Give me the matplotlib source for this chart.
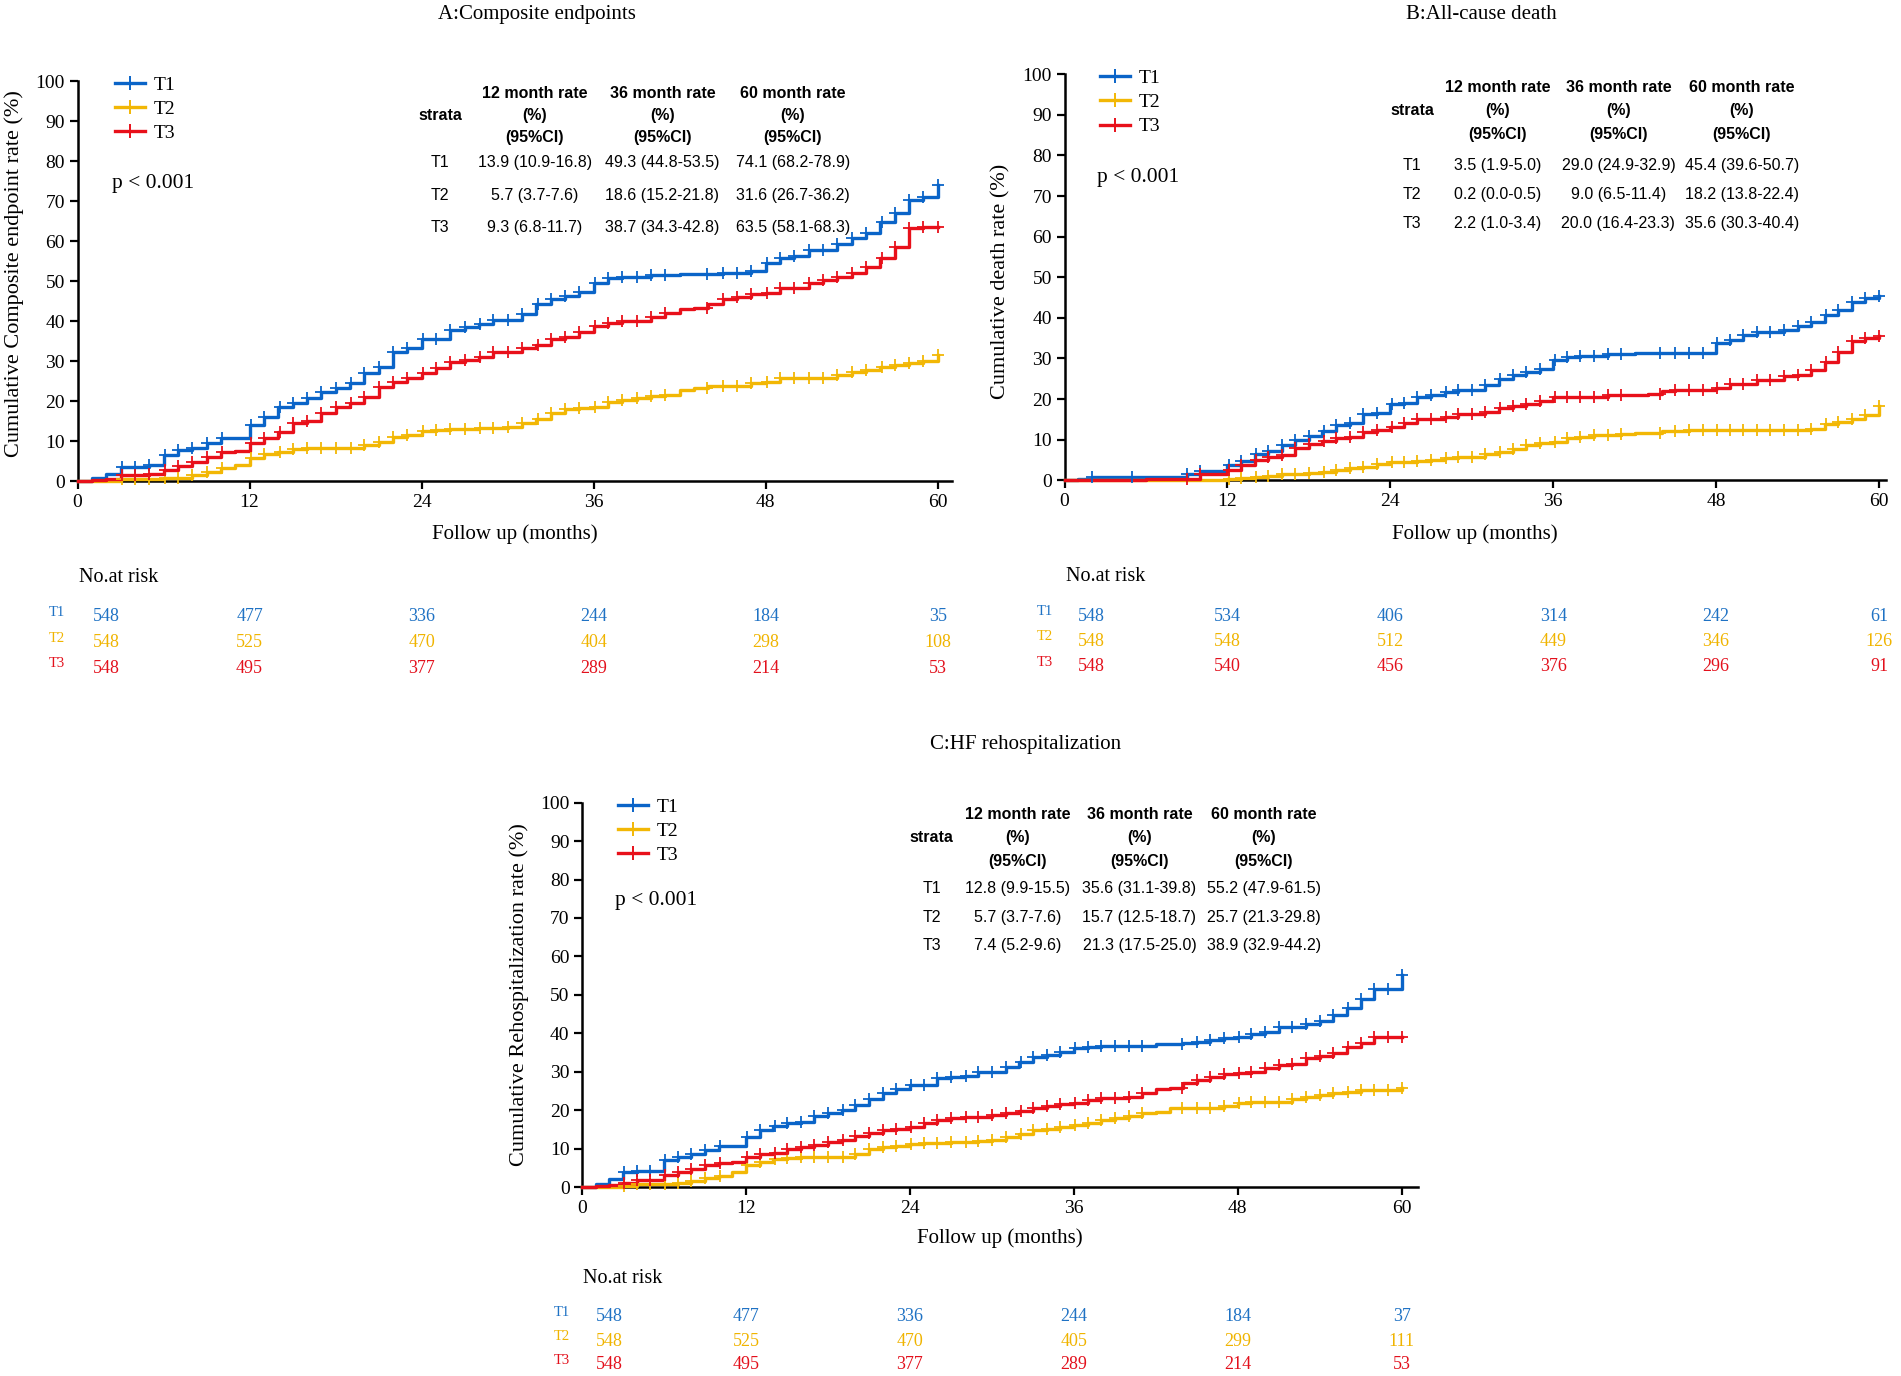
import numpy as np
import matplotlib
matplotlib.use('Agg')
import matplotlib.pyplot as plt
from matplotlib import transforms
from matplotlib.lines import Line2D

plt.rcParams['font.family'] = ['Liberation Serif', 'DejaVu Serif']

# monthly grid of the step curves (value held from month m to m+1)
months = np.arange(61)

groups = ['T1', 'T2', 'T3']
line_colors = ['#0a64c8', '#f2b705', '#e8101a']
risk_colors = ['#1f72c4', '#f0b400', '#e3101c']

# A: Composite endpoints
A_T1 = [0, 0.7, 1.75, 3.4, 3.4, 4.0, 6.5, 7.75, 8.2, 9.4, 10.8, 10.8, 14.0, 16.0, 18.4, 19.4,
        20.7, 22.3, 23.2, 24.6, 27.0, 28.4, 32.3, 33.2, 35.4, 35.4, 37.75, 38.4, 39.25, 40.25,
        40.25, 41.75, 44.25, 45.4, 46.3, 47.3, 49.6, 50.8, 51.1, 51.1, 51.4, 51.4, 51.7, 51.7,
        51.7, 52.1, 52.1, 52.6, 54.4, 55.7, 56.25, 57.75, 57.75, 59.2, 60.7, 61.9, 64.8, 66.9,
        70.25, 71.1, 74.1]
A_T2 = [0, 0, 0, 0.4, 0.4, 0.4, 0.75, 0.75, 1.5, 2.3, 3.2, 4.0, 5.7, 6.75, 7.3, 7.9, 8.3, 8.3,
        8.3, 8.3, 9.0, 9.7, 10.9, 11.5, 12.5, 12.75, 13.0, 13.0, 13.3, 13.3, 13.6, 14.6, 15.4,
        16.9, 17.9, 18.2, 18.6, 19.7, 20.25, 20.8, 21.2, 21.5, 22.75, 23.2, 23.75, 23.75, 23.75,
        24.4, 24.8, 25.7, 25.7, 25.7, 25.7, 26.5, 27.3, 27.75, 28.6, 29.0, 29.4, 30.1, 31.6]
A_T3 = [0, 0.2, 0.6, 1.5, 1.5, 1.8, 2.75, 3.75, 4.8, 6.1, 7.3, 7.5, 9.4, 10.75, 12.3, 14.4, 15.1,
        16.9, 18.6, 19.4, 21.1, 23.4, 24.8, 25.7, 26.9, 28.2, 29.7, 30.25, 31.1, 32.3, 32.3, 33.2,
        34.0, 35.4, 36.1, 37.3, 38.8, 39.6, 40.1, 40.1, 40.9, 41.9, 43.0, 43.2, 44.25, 45.4, 46.1,
        46.7, 47.1, 48.25, 48.25, 49.4, 50.25, 50.9, 52.1, 53.6, 55.7, 58.6, 63.2, 63.5, 63.5]

# B: All-cause death
B_T1 = [0, 0.3, 0.8, 0.8, 0.8, 0.8, 0.8, 0.8, 0.8, 1.6, 2.3, 2.3, 3.7, 4.8, 6.4, 7.2, 8.6, 10.0,
        10.8, 12.1, 13.5, 14.1, 16.2, 16.6, 18.9, 19.0, 20.5, 20.9, 21.75, 22.3, 22.3, 23.4, 25.0,
        25.9, 26.7, 27.5, 29.6, 30.4, 30.5, 30.5, 31.0, 31.0, 31.4, 31.4, 31.4, 31.4, 31.4, 31.4,
        33.7, 34.6, 35.7, 36.4, 36.4, 37.1, 37.9, 39.0, 40.6, 41.9, 43.9, 44.8, 45.4]
B_T2 = [0, 0, 0, 0, 0, 0, 0, 0, 0, 0, 0, 0, 0.2, 0.6, 0.8, 1.1, 1.5, 1.6, 1.9, 2.1, 2.5, 2.9, 3.3,
        3.9, 4.4, 4.5, 4.7, 5.1, 5.4, 5.6, 5.75, 6.4, 7.0, 7.8, 8.6, 9.2, 9.5, 10.3, 10.7, 11.1,
        11.2, 11.5, 11.7, 11.7, 12.1, 12.1, 12.3, 12.3, 12.3, 12.3, 12.3, 12.3, 12.3, 12.3, 12.3,
        12.7, 13.8, 14.4, 15.2, 16.0, 18.2]
B_T3 = [0, 0, 0, 0, 0, 0, 0.4, 0.4, 0.4, 0.4, 1.6, 1.6, 2.5, 3.7, 4.9, 5.7, 6.2, 8.0, 8.9, 9.6,
        10.3, 10.7, 11.9, 12.3, 13.1, 14.0, 15.2, 15.2, 15.6, 16.2, 16.4, 16.8, 17.7, 18.2, 18.9,
        19.5, 20.4, 20.5, 20.5, 20.5, 20.9, 20.9, 20.9, 21.3, 22.0, 22.3, 22.3, 22.3, 22.6, 23.8,
        23.8, 24.6, 24.6, 25.6, 25.9, 27.1, 29.1, 31.6, 34.3, 35.1, 35.6]

# C: HF rehospitalization
C_T1 = [0, 0.8, 2.0, 4.0, 4.2, 4.2, 7.0, 7.9, 8.6, 9.6, 10.7, 10.7, 13.1, 14.8, 15.9, 16.6, 17.0,
        18.5, 19.2, 20.0, 21.3, 22.8, 24.4, 25.4, 26.5, 26.5, 28.3, 28.7, 29.0, 30.0, 30.0, 31.3,
        32.6, 33.9, 34.3, 35.2, 36.1, 36.5, 36.8, 36.8, 36.8, 36.8, 37.1, 37.1, 37.4, 37.8, 38.2,
        38.7, 39.1, 39.8, 40.4, 41.7, 41.7, 42.4, 43.3, 44.75, 46.5, 48.8, 51.4, 51.4, 55.2]
C_T2 = [0, 0, 0, 0.3, 0.7, 0.7, 0.8, 1.0, 1.6, 2.3, 2.9, 4.0, 5.7, 6.6, 7.2, 7.6, 7.9, 7.9, 7.9,
        7.9, 8.6, 9.8, 10.5, 10.8, 11.2, 11.4, 11.4, 11.8, 11.8, 12.0, 12.2, 13.1, 13.8, 14.8, 15.0,
        15.7, 16.2, 16.7, 17.4, 17.9, 18.5, 19.2, 19.6, 20.5, 20.6, 20.6, 20.6, 21.1, 21.8, 22.2,
        22.2, 22.2, 22.8, 23.5, 23.9, 24.4, 24.8, 25.2, 25.2, 25.2, 25.7]
C_T3 = [0, 0.25, 0.5, 1.1, 1.8, 1.8, 3.1, 4.0, 4.6, 5.7, 6.2, 6.6, 7.7, 8.6, 8.9, 9.8, 10.5, 10.9,
        11.8, 12.2, 13.3, 14.1, 14.8, 15.0, 15.7, 16.7, 17.4, 17.9, 18.1, 18.1, 18.7, 19.3, 19.8,
        20.5, 21.1, 21.6, 21.8, 22.6, 23.1, 23.1, 23.5, 24.4, 25.4, 25.9, 27.0, 27.8, 28.7, 29.4,
        29.6, 30.0, 30.9, 31.7, 32.0, 33.5, 34.1, 35.0, 36.5, 37.6, 39.0, 39.0, 39.0]

# censoring marks (months)
censor_A = [3.1, 4.0, 5.0, 6.1, 7.0, 8.0, 9.0, 10.1, 12.1, 13.0, 14.1, 15.0, 16.0, 17.0, 18.0,
            19.1, 20.0, 21.0, 22.0, 23.0, 24.1, 25.0, 26.0, 27.0, 28.1, 29.0, 30.0, 31.0, 32.1,
            33.0, 34.0, 35.0, 36.1, 37.0, 38.0, 39.0, 40.0, 41.0, 43.9, 45.0, 46.0, 47.0, 48.1,
            49.0, 50.0, 51.0, 52.0, 53.0, 54.0, 55.0, 56.1, 57.0, 58.0, 59.0, 60.0]
censor_B = [2.0, 5.0, 9.0, 10.0, 12.1, 13.0, 14.1, 15.0, 16.0, 17.0, 18.0, 19.1, 20.0, 21.0,
            22.0, 23.0, 24.1, 25.0, 26.0, 27.0, 28.1, 29.0, 30.0, 31.0, 32.1, 33.0, 34.0, 35.0,
            36.1, 37.0, 38.0, 39.0, 40.0, 41.0, 43.9, 45.0, 46.0, 47.0, 48.1, 49.0, 50.0, 51.0,
            52.0, 53.0, 54.0, 55.0, 56.1, 57.0, 58.0, 59.0, 60.0]
censor_C = censor_A

# rate tables
tab_A = [['13.9 (10.9-16.8)', '49.3 (44.8-53.5)', '74.1 (68.2-78.9)'],
         ['5.7 (3.7-7.6)', '18.6 (15.2-21.8)', '31.6 (26.7-36.2)'],
         ['9.3 (6.8-11.7)', '38.7 (34.3-42.8)', '63.5 (58.1-68.3)']]
tab_B = [['3.5 (1.9-5.0)', '29.0 (24.9-32.9)', '45.4 (39.6-50.7)'],
         ['0.2 (0.0-0.5)', '9.0 (6.5-11.4)', '18.2 (13.8-22.4)'],
         ['2.2 (1.0-3.4)', '20.0 (16.4-23.3)', '35.6 (30.3-40.4)']]
tab_C = [['12.8 (9.9-15.5)', '35.6 (31.1-39.8)', '55.2 (47.9-61.5)'],
         ['5.7 (3.7-7.6)', '15.7 (12.5-18.7)', '25.7 (21.3-29.8)'],
         ['7.4 (5.2-9.6)', '21.3 (17.5-25.0)', '38.9 (32.9-44.2)']]
tab_head = ['12 month rate', '36 month rate', '60 month rate']

# numbers at risk
risk_months = [2, 12, 24, 36, 48, 60]
risk_A = [[548, 477, 336, 244, 184, 35], [548, 525, 470, 404, 298, 108], [548, 495, 377, 289, 214, 53]]
risk_B = [[548, 534, 406, 314, 242, 61], [548, 548, 512, 449, 346, 126], [548, 540, 456, 376, 296, 91]]
risk_C = [[548, 477, 336, 244, 184, 37], [548, 525, 470, 405, 299, 111], [548, 495, 377, 289, 214, 53]]

sans = ['Liberation Sans', 'DejaVu Sans']

fig = plt.figure(figsize=(19.01, 13.76), dpi=100)


def panel(rect, xmax, curves, censor, table, risk, title, title_xy, ylabel, ylab_xy, risk_y,
          strata_x, head_y, row_y):
    ax = fig.add_axes(rect)
    for vals, col in zip(curves, line_colors):
        vals = np.array(vals)
        ax.plot(months, vals, drawstyle='steps-post', color=col, lw=2.4, clip_on=False, zorder=3)
        ct = np.array(censor)
        cv = vals[np.minimum(np.floor(ct).astype(int), 60)]
        keep = cv > 0
        ax.plot(ct[keep], cv[keep], '+', color=col, ms=8.5, mew=1.3, clip_on=False, zorder=4)
    ax.set_xlim(0, xmax)
    ax.set_ylim(0, 100)
    ax.set_xticks([0, 12, 24, 36, 48, 60])
    ax.set_yticks(np.arange(0, 101, 10))
    for s in ['top', 'right']:
        ax.spines[s].set_visible(False)
    for s in ['left', 'bottom']:
        ax.spines[s].set_linewidth(1.8)
    ax.tick_params(direction='out', length=6, width=1.6, labelsize=14, pad=3)
    ax.set_xlabel('Follow up (months)', fontsize=15, va='center')
    ax.xaxis.set_label_coords(0.5, -0.133)
    ax.set_ylabel(ylabel, fontsize=16, va='center')
    ax.yaxis.set_label_coords(*ylab_xy)

    handles = [Line2D([], [], color=c, lw=2.4, marker='+', ms=10, mew=1.4) for c in line_colors]
    ax.legend(handles, groups, loc='upper left', bbox_to_anchor=(2.6, 101.2),
              bbox_transform=ax.transData, frameon=False, fontsize=14, handlelength=1.55,
              handletextpad=0.45, labelspacing=0.34, borderpad=0, borderaxespad=0, numpoints=1)
    ax.text(2.4, 74.5, 'p < 0.001', fontsize=15.5, ha='left', va='center')

    # rate table
    col_x = [31.9, 40.8, 49.9]
    ax.text(strata_x, head_y[1], 'strata', family=sans, fontsize=11.5, fontweight='bold',
            ha='center', va='center')
    for x, h in zip(col_x, tab_head):
        for y, t in zip(head_y, [h, '(%)', '(95%CI)']):
            ax.text(x, y, t, family=sans, fontsize=11.5, fontweight='bold', ha='center', va='center')
    for row, g, y in zip(table, groups, row_y):
        ax.text(strata_x, y, g, family=sans, fontsize=11.5, ha='center', va='center')
        for x, t in zip(col_x, row):
            ax.text(x, y, t, family=sans, fontsize=11.5, ha='center', va='center')

    fig.text(title_xy[0], title_xy[1], title, fontsize=15, ha='center', va='center')

    # numbers at risk
    tr = transforms.blended_transform_factory(ax.transData, fig.transFigure)
    ax.text(0.1, risk_y[0], 'No.at risk', transform=tr, fontsize=14.5, ha='left', va='center')
    for i, (nums, col) in enumerate(zip(risk, risk_colors)):
        y = risk_y[i + 1]
        ax.text(-1.45, y + 0.003, groups[i], transform=tr, fontsize=10.5, color=col,
                ha='center', va='center')
        for m, n in zip(risk_months, nums):
            ax.text(m, y, str(n), transform=tr, fontsize=13, color=col, ha='center', va='center')
    return ax


panel([0.0408, 0.6504, 0.4600, 0.2907], 61, [A_T1, A_T2, A_T3], censor_A, tab_A, risk_A,
      'A:Composite endpoints', (0.2825, 0.9895), 'Cumulative Composite endpoint rate (%)',
      (-0.0722, 0.5175), [0.580, 0.5516, 0.5330, 0.5145],
      25.3, [97, 91.5, 86], [79.7, 71.5, 63.3])
panel([0.560, 0.651, 0.432, 0.295], 60.5, [B_T1, B_T2, B_T3], censor_B, tab_B, risk_B,
      'B:All-cause death', (0.779, 0.9895), 'Cumulative death rate (%)',
      (-0.0773, 0.49), [0.5807, 0.5523, 0.5341, 0.5153],
      25.6, [96.7, 91, 85.2], [77.6, 70.4, 63.2])
panel([0.3062, 0.1373, 0.4398, 0.2794], 61.2, [C_T1, C_T2, C_T3], censor_C, tab_C, risk_C,
      'C:HF rehospitalization', (0.5397, 0.459), 'Cumulative Rehospitalization rate (%)',
      (-0.0754, 0.502), [0.0705, 0.0431, 0.0254, 0.0080],
      25.6, [96.8, 90.9, 84.6], [77.6, 70.2, 62.9])

fig.savefig('out.png', dpi=100)
